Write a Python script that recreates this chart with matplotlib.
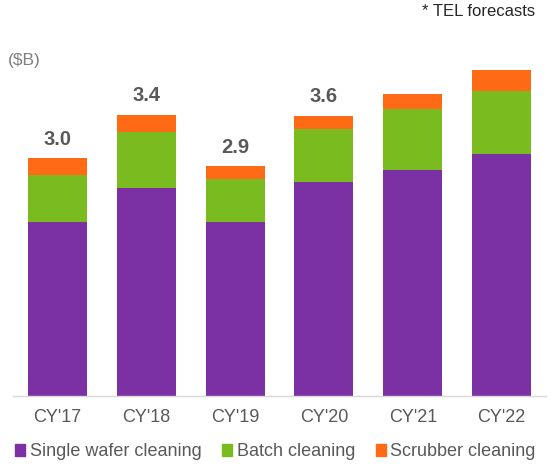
import matplotlib
matplotlib.use("Agg")
import matplotlib.pyplot as plt
from matplotlib.patches import Patch
import numpy as np

plt.rcParams["font.family"] = ["Liberation Sans", "DejaVu Sans"]

years = ["CY'17", "CY'18", "CY'19", "CY'20", "CY'21", "CY'22"]
single_wafer = [2.18, 2.60, 2.18, 2.67, 2.83, 3.03]
batch = [0.58, 0.70, 0.53, 0.67, 0.76, 0.78]
scrubber = [0.21, 0.21, 0.16, 0.16, 0.18, 0.26]
total_labels = ["3.0", "3.4", "2.9", "3.6", "", ""]
series_names = ["Single wafer cleaning", "Batch cleaning", "Scrubber cleaning"]

PURPLE = "#7b30a4"
GREEN = "#7abc20"
ORANGE = "#ff6a14"
TEXT = "#595959"

fig = plt.figure(figsize=(5.54, 4.70), dpi=100)
ax = fig.add_axes([13 / 554, 1 - 396 / 470, 533 / 554, 336 / 470])

x = np.arange(len(years))
w = 0.665
sw = np.array(single_wafer)
bt = np.array(batch)
sc = np.array(scrubber)
ax.bar(x, sw, w, color=PURPLE, linewidth=0)
ax.bar(x, bt, w, bottom=sw, color=GREEN, linewidth=0)
ax.bar(x, sc, w, bottom=sw + bt, color=ORANGE, linewidth=0)

tops = sw + bt + sc
for xi, top, lab in zip(x, tops, total_labels):
    if lab:
        ax.annotate(lab, (xi, top), xytext=(0, 7), textcoords="offset points",
                    ha="center", va="bottom", fontsize=14.5, fontweight="bold", color=TEXT)

ax.set_xlim(-0.5, len(years) - 0.5)
ax.set_ylim(0, 4.2)
ax.set_xticks(x)
ax.set_xticklabels(years, fontsize=13, color=TEXT)
ax.tick_params(axis="x", length=0, pad=9)
ax.set_yticks([])
for s in ["top", "right", "left"]:
    ax.spines[s].set_visible(False)
ax.spines["bottom"].set_color("#d9d9d9")
ax.spines["bottom"].set_linewidth(1.0)

fig.text(8 / 554, 1 - 60 / 470, "($B)", fontsize=12.5, color="#7f7f7f", va="center", ha="left")
fig.text(535 / 554, 1 - 11 / 470, "* TEL forecasts", fontsize=12, color="#262626",
         va="center", ha="right")

handles = [Patch(color=c) for c in (PURPLE, GREEN, ORANGE)]
fig.legend(handles, series_names, loc="center", bbox_to_anchor=(0.497, 1 - 452 / 470),
           ncol=3, frameon=False, fontsize=13, handlelength=0.55, handleheight=0.6,
           handletextpad=0.25, columnspacing=1.15, labelcolor=TEXT, borderaxespad=0)

fig.savefig("out.png", dpi=100, facecolor="white")
